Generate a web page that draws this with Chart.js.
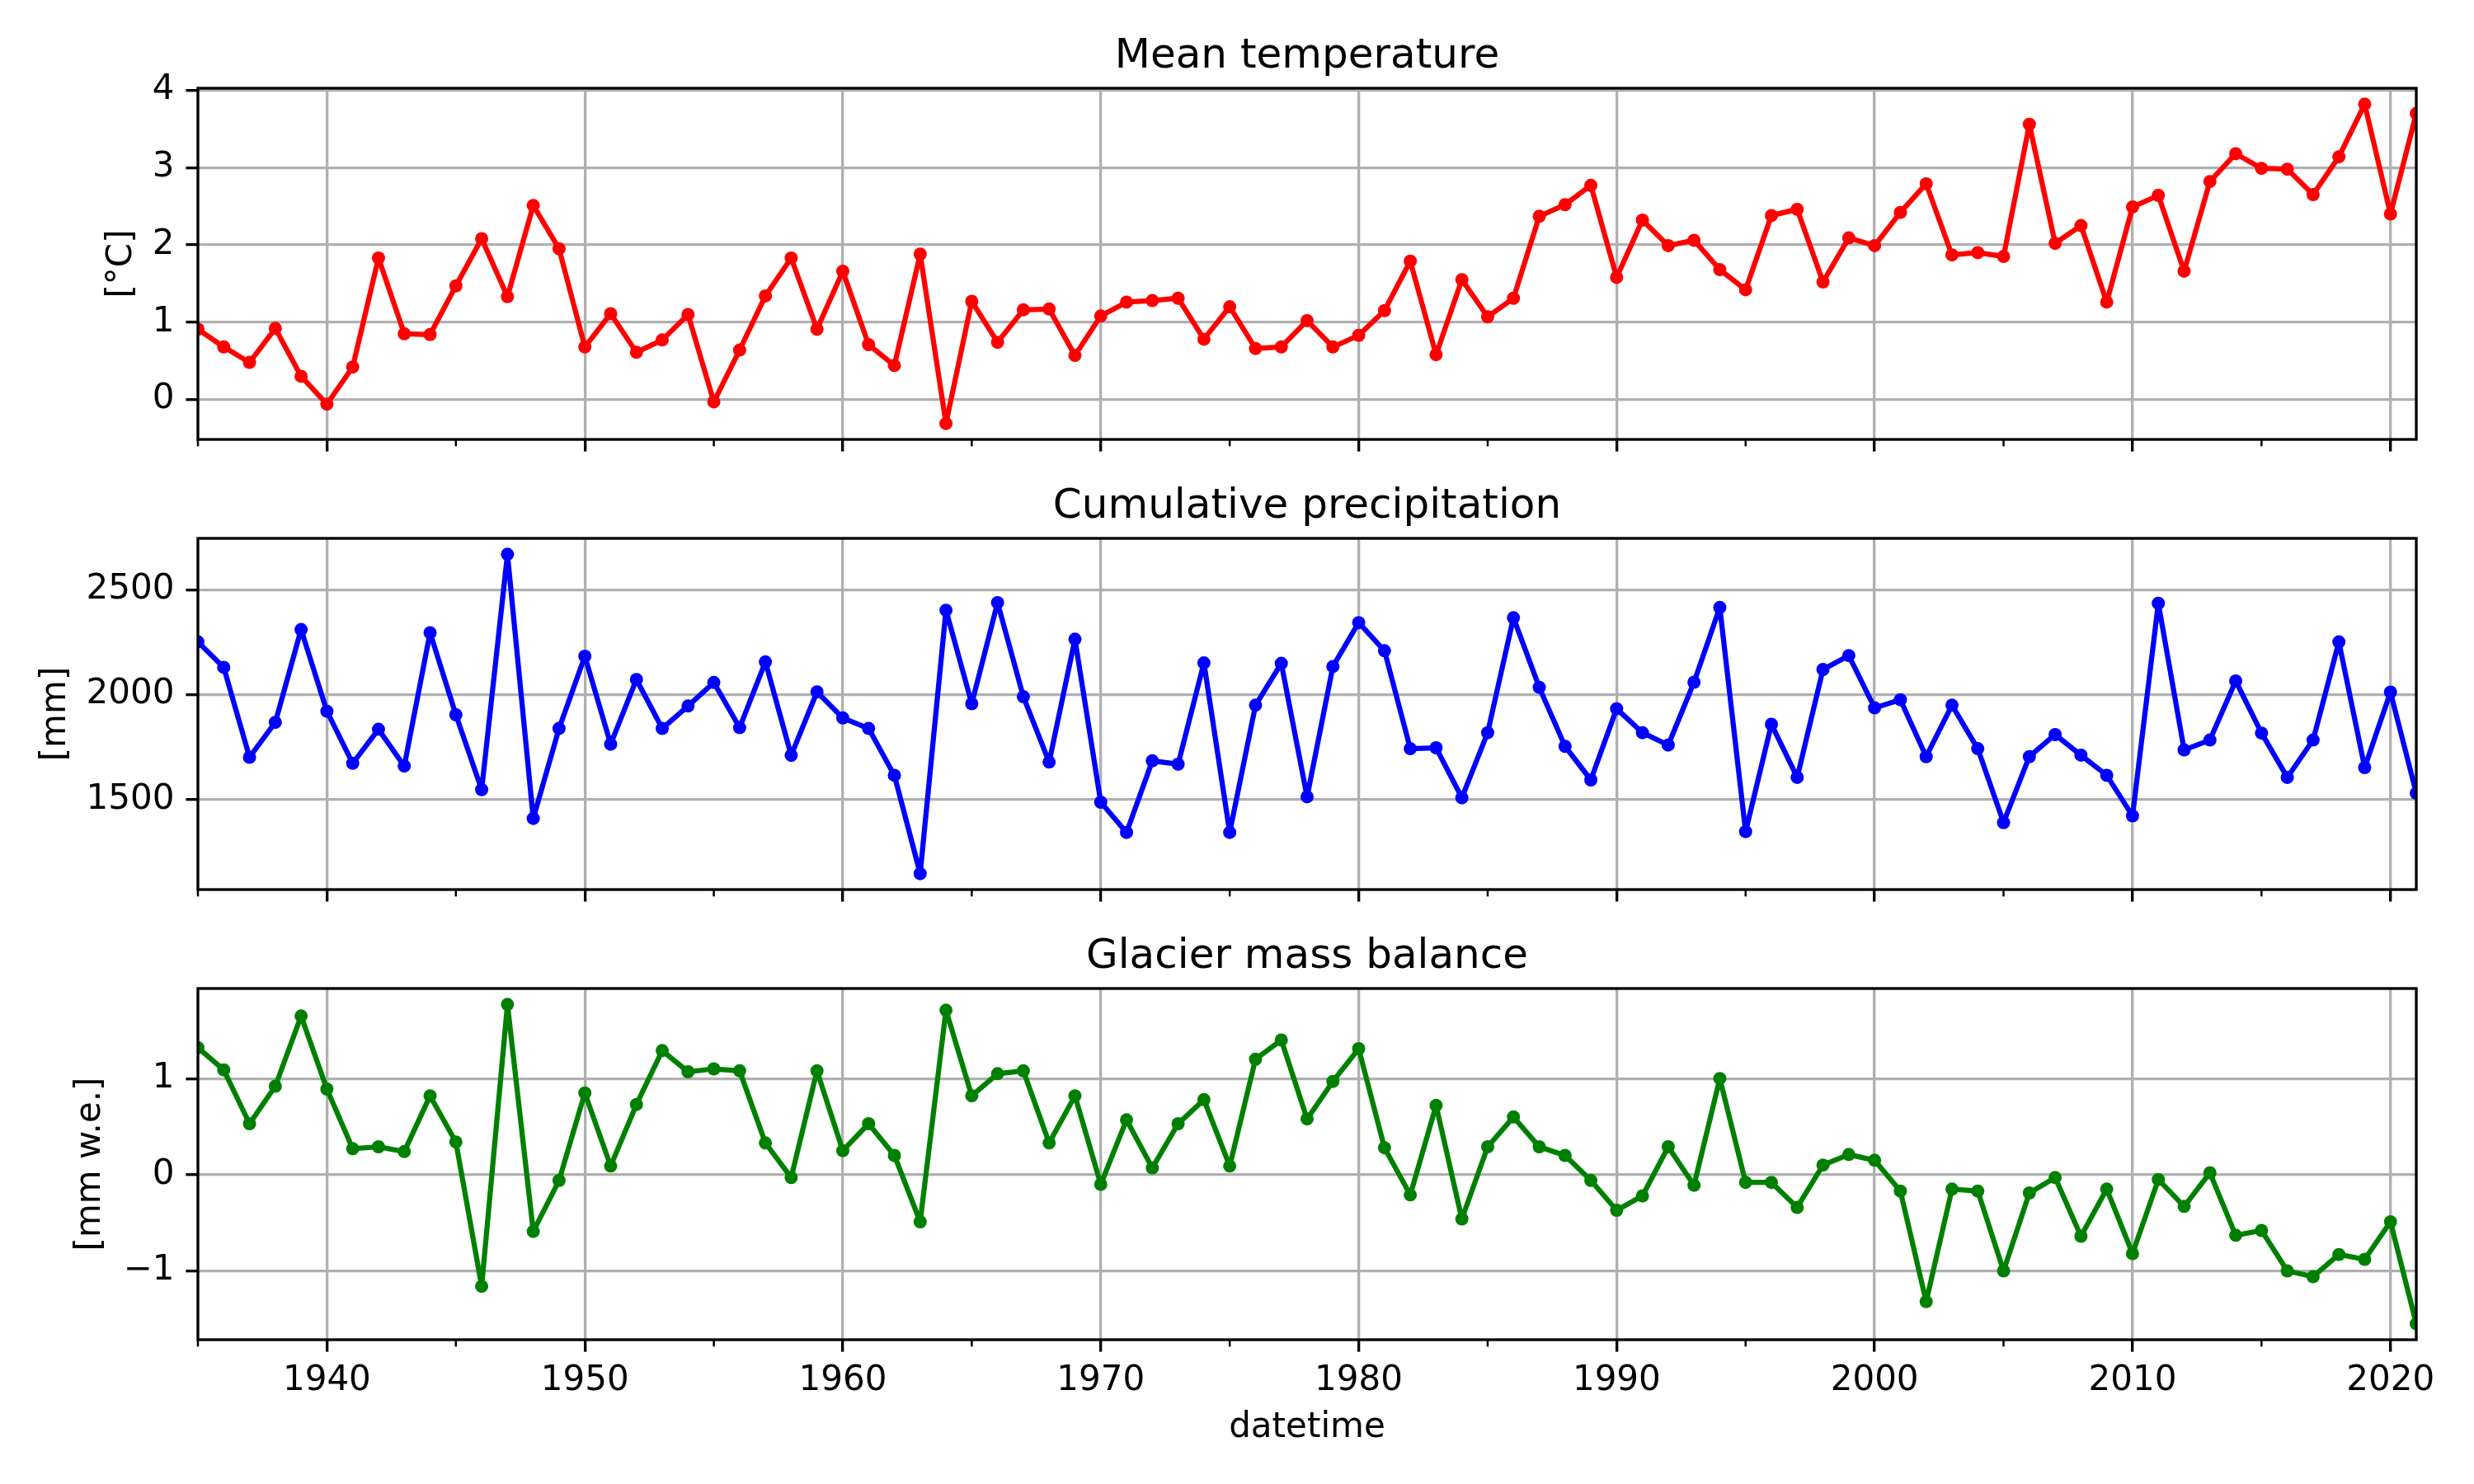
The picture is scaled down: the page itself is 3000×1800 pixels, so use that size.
<!DOCTYPE html>
<html>
<head>
<meta charset="utf-8">
<script src="https://cdn.jsdelivr.net/npm/chart.js@4.4.1/dist/chart.umd.min.js"></script>
<style>
  html, body { margin: 0; padding: 0; background: #fff; }
  #wrap { position: relative; width: 3000px; height: 1800px; background: #fff; }
  canvas { position: absolute; left: 0; }
</style>
</head>
<body>
<div id="wrap">
  <canvas id="c-temp" width="3000" height="560" style="top:0px"></canvas>
  <canvas id="c-prec" width="3000" height="540" style="top:560px"></canvas>
  <canvas id="c-mb" width="3000" height="700" style="top:1100px"></canvas>
</div>
<script>
// annual series, 1935-2021
const years = [1935, 1936, 1937, 1938, 1939, 1940, 1941, 1942, 1943, 1944,
  1945, 1946, 1947, 1948, 1949, 1950, 1951, 1952, 1953, 1954,
  1955, 1956, 1957, 1958, 1959, 1960, 1961, 1962, 1963, 1964,
  1965, 1966, 1967, 1968, 1969, 1970, 1971, 1972, 1973, 1974,
  1975, 1976, 1977, 1978, 1979, 1980, 1981, 1982, 1983, 1984,
  1985, 1986, 1987, 1988, 1989, 1990, 1991, 1992, 1993, 1994,
  1995, 1996, 1997, 1998, 1999, 2000, 2001, 2002, 2003, 2004,
  2005, 2006, 2007, 2008, 2009, 2010, 2011, 2012, 2013, 2014,
  2015, 2016, 2017, 2018, 2019, 2020, 2021];

const meanTemp = [0.91, 0.68, 0.48, 0.92, 0.30, -0.06, 0.42, 1.83, 0.85, 0.84,
  1.47, 2.08, 1.33, 2.51, 1.95, 0.68, 1.11, 0.61, 0.77, 1.10,
  -0.03, 0.64, 1.34, 1.83, 0.91, 1.66, 0.71, 0.44, 1.88, -0.31,
  1.27, 0.74, 1.16, 1.17, 0.57, 1.08, 1.26, 1.28, 1.31, 0.78,
  1.20, 0.66, 0.68, 1.02, 0.68, 0.83, 1.15, 1.79, 0.58, 1.55,
  1.07, 1.31, 2.37, 2.52, 2.77, 1.58, 2.32, 1.99, 2.06, 1.68,
  1.42, 2.38, 2.46, 1.52, 2.09, 1.99, 2.42, 2.79, 1.87, 1.90,
  1.85, 3.56, 2.02, 2.25, 1.26, 2.49, 2.64, 1.66, 2.82, 3.18,
  2.99, 2.98, 2.65, 3.14, 3.82, 2.40, 3.70];

const cumPrecip = [2251, 2130, 1702, 1868, 2310, 1921, 1673, 1835, 1660, 2295,
  1904, 1548, 2668, 1411, 1839, 2183, 1764, 2072, 1839, 1946,
  2058, 1843, 2156, 1711, 2013, 1889, 1839, 1616, 1148, 2402,
  1957, 2438, 1990, 1679, 2264, 1488, 1344, 1685, 1669, 2151,
  1344, 1950, 2149, 1514, 2134, 2343, 2209, 1743, 1747, 1509,
  1819, 2366, 2035, 1754, 1594, 1933, 1819, 1760, 2059, 2415,
  1348, 1859, 1606, 2120, 2186, 1937, 1976, 1705, 1950, 1743,
  1391, 1705, 1810, 1712, 1616, 1423, 2435, 1737, 1784, 2065,
  1817, 1606, 1784, 2251, 1653, 2012, 1531];

const massBalance = [1.32, 1.09, 0.53, 0.92, 1.65, 0.89, 0.27, 0.29, 0.24, 0.82,
  0.34, -1.16, 1.77, -0.59, -0.06, 0.85, 0.09, 0.73, 1.29, 1.07,
  1.10, 1.08, 0.33, -0.03, 1.08, 0.25, 0.53, 0.20, -0.49, 1.71,
  0.82, 1.05, 1.08, 0.33, 0.82, -0.10, 0.57, 0.07, 0.53, 0.78,
  0.09, 1.20, 1.40, 0.58, 0.97, 1.31, 0.28, -0.21, 0.72, -0.46,
  0.29, 0.60, 0.29, 0.20, -0.06, -0.37, -0.22, 0.29, -0.11, 1.00,
  -0.08, -0.08, -0.34, 0.10, 0.21, 0.15, -0.17, -1.32, -0.15, -0.17,
  -1.00, -0.19, -0.03, -0.64, -0.15, -0.82, -0.05, -0.33, 0.02, -0.63,
  -0.58, -1.00, -1.06, -0.83, -0.88, -0.49, -1.55];

const majorYears = [1940, 1950, 1960, 1970, 1980, 1990, 2000, 2010, 2020];
const minorYears = [1935, 1945, 1955, 1965, 1975, 1985, 1995, 2005, 2015];
const tempTicks = [0, 1, 2, 3, 4];
const precTicks = [1500, 2000, 2500];
const mbTicks = [-1, 0, 1];

Chart.defaults.font.family = 'DejaVu Sans';
Chart.defaults.color = '#000';

const PT = 300 / 72;            // px per point, figure was saved at 300 dpi
const tickFont = { family: 'DejaVu Sans', size: 42, weight: 'normal' };
const titleFont = { family: 'DejaVu Sans', size: 50, weight: 'normal' };

// matplotlib style: full black frame + short minor ticks, drawn above the data
const framePlugin = {
  id: 'frame',
  afterDatasetsDraw(chart) {
    const { ctx, chartArea: a } = chart;
    const x = chart.scales.x;
    ctx.save();
    ctx.strokeStyle = '#000';
    ctx.lineWidth = 0.6 * PT;
    minorYears.forEach(v => {
      const px = x.getPixelForValue(v);
      ctx.beginPath();
      ctx.moveTo(px, a.bottom);
      ctx.lineTo(px, a.bottom + 2 * PT);
      ctx.stroke();
    });
    ctx.lineWidth = 0.8 * PT;
    ctx.strokeRect(a.left, a.top, a.right - a.left, a.bottom - a.top);
    ctx.restore();
  }
};

// autoscale like matplotlib (5% margins)
function padRange(vals) {
  const lo = Math.min(...vals), hi = Math.max(...vals);
  const m = (hi - lo) * 0.05;
  return [lo - m, hi + m];
}

function makePanel(id, cfg) {
  const [ymin, ymax] = padRange(cfg.values);
  const gridStyle = {
    color: '#b0b0b0', lineWidth: 0.8 * PT,
    tickColor: '#000', tickWidth: 0.8 * PT, tickLength: 3.5 * PT
  };
  return new Chart(document.getElementById(id), {
    type: 'line',
    data: {
      datasets: [{
        data: years.map((yr, i) => ({ x: yr, y: cfg.values[i] })),
        borderColor: cfg.color,
        backgroundColor: cfg.color,
        borderWidth: 1.5 * PT,
        borderJoinStyle: 'round',
        borderCapStyle: 'round',
        pointRadius: 8,
        pointBorderWidth: 0,
        pointBackgroundColor: cfg.color,
        tension: 0,
        clip: 0
      }]
    },
    options: {
      responsive: false,
      animation: false,
      devicePixelRatio: 1,
      layout: { padding: { left: 0, right: 70, top: 0, bottom: 0 } },
      plugins: {
        legend: { display: false },
        tooltip: { enabled: false },
        title: {
          display: true, text: cfg.title, font: titleFont, color: '#000',
          fullSize: false,
          padding: { top: cfg.titleTop + 5, bottom: 8 }
        }
      },
      scales: {
        x: {
          type: 'linear', min: 1935, max: 2021,
          afterBuildTicks: s => { s.ticks = majorYears.map(v => ({ value: v })); },
          afterFit: s => { s.height = cfg.xHeight; },
          grid: gridStyle,
          border: { display: false },
          ticks: {
            display: cfg.showX, font: tickFont, color: '#000', padding: 10,
            maxRotation: 0, autoSkip: false, callback: v => String(v)
          },
          title: {
            display: cfg.showX, text: 'datetime', font: tickFont, color: '#000',
            padding: { top: 0, bottom: 43 }
          }
        },
        y: {
          min: ymin, max: ymax,
          afterBuildTicks: s => { s.ticks = cfg.ticks.map(v => ({ value: v })); },
          afterFit: s => {
            s.width = 240;
            s.paddingTop = 0;
            s.paddingBottom = 0;
          },
          grid: gridStyle,
          border: { display: false },
          ticks: {
            font: tickFont, color: '#000', padding: 14,
            callback: v => String(v).replace('-', '\u2212')
          },
          title: {
            display: true, text: cfg.yLabel, font: tickFont, color: '#000',
            padding: { top: cfg.yLabelPad, bottom: 0 }
          }
        }
      }
    },
    plugins: [framePlugin]
  });
}

makePanel('c-temp', {
  title: 'Mean temperature', yLabel: '[°C]', values: meanTemp, color: '#ff0000',
  ticks: tempTicks, titleTop: 34, xHeight: 27, showX: false, yLabelPad: 123
});
makePanel('c-prec', {
  title: 'Cumulative precipitation', yLabel: '[mm]', values: cumPrecip, color: '#0000ff',
  ticks: precTicks, titleTop: 20, xHeight: 21, showX: false, yLabelPad: 43
});
makePanel('c-mb', {
  title: 'Glacier mass balance', yLabel: '[mm w.e.]', values: massBalance, color: '#008000',
  ticks: mbTicks, titleTop: 26, xHeight: 175, showX: true, yLabelPad: 85
});
</script>
</body>
</html>
